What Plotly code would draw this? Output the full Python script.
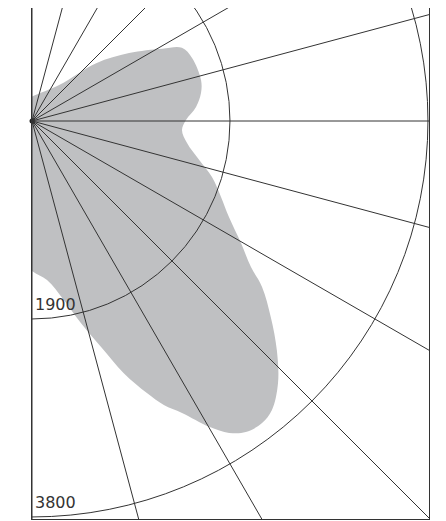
import numpy as np
import plotly.graph_objects as go

# Boundary of the shaded region (polar: angle in degrees, radius in data units)
blob_theta = [97, 53, 42, 35, 29, 26, 21.5, 13.6, 9.4, 4.9, 0.4, -3.4, -8.1, -13.1,
              -17.3, -21.9, -26.0, -30.3, -33.7, -35.8, -39.4, -43.1, -46.8, -50.3,
              -52.7, -55.5, -57.7, -59.9, -62.8, -65.1, -67.1, -70.0, -73.0, -76.4,
              -79.9, -84.6, -90.4, -100, -130, 180, 130]
blob_r = [222, 432, 829, 1137, 1431, 1601, 1651, 1669, 1644, 1580, 1478, 1442, 1503, 1646,
          1809, 1955, 2103, 2323, 2526, 2722, 2966, 3218, 3449, 3605,
          3643, 3623, 3541, 3392, 3150, 3005, 2834, 2575, 2268, 1995,
          1745, 1533, 1430, 1200, 600, 250, 200]

grid_r = [1900, 3800]
grid_labels = ["1900", "3800"]
spoke_angles = list(range(-90, 91, 15))

r_max = 3810
line_col = "#333333"

th = np.deg2rad(blob_theta)
bx = np.array(blob_r) * np.cos(th)
by = np.array(blob_r) * np.sin(th)

fig = go.Figure()
fig.add_trace(go.Scatter(x=list(bx) + [bx[0]], y=list(by) + [by[0]], mode="lines",
                         fill="toself", fillcolor="#bfc0c2",
                         line=dict(color="#bfc0c2", width=0, shape="spline"),
                         hoverinfo="skip", showlegend=False))

shapes = []
for r in grid_r:
    shapes.append(dict(type="circle", xref="x", yref="y", x0=-r, y0=-r, x1=r, y1=r,
                       line=dict(color=line_col, width=1)))
L = 10000
for a in spoke_angles:
    t = np.deg2rad(a)
    shapes.append(dict(type="line", xref="x", yref="y", x0=0, y0=0,
                       x1=L * np.cos(t), y1=L * np.sin(t),
                       line=dict(color=line_col, width=1)))

fig.add_trace(go.Scatter(x=[0], y=[0], mode="markers", marker=dict(color="#222", size=5),
                         cliponaxis=False, hoverinfo="skip", showlegend=False))

annotations = []
for r, lab in zip(grid_r, grid_labels):
    annotations.append(dict(x=0, y=-r, xref="x", yref="y", text=lab, showarrow=False,
                            xanchor="left", yanchor="bottom", xshift=1, yshift=3,
                            font=dict(family="DejaVu Sans", size=16, color="#333333")))

# page body adds an 8px offset
W, H = 438, 513
ml, mr, mt, mb = 24, 17, 0, 2
pw = W - ml - mr
ph = H - mt - mb
scale = pw / r_max
y_top = 113 / scale
y_bot = y_top - ph / scale

fig.update_layout(
    width=W, height=H, margin=dict(l=ml, r=mr, t=mt, b=mb),
    paper_bgcolor="white", plot_bgcolor="white",
    shapes=shapes, annotations=annotations,
    xaxis=dict(range=[0, r_max], showgrid=False, zeroline=False, showticklabels=False,
               ticks="", showline=True, mirror=True, linecolor=line_col, linewidth=1),
    yaxis=dict(range=[y_bot, y_top], showgrid=False, zeroline=False, showticklabels=False,
               ticks="", showline=True, mirror=True, linecolor=line_col, linewidth=1),
)
fig.write_html("out.html")
